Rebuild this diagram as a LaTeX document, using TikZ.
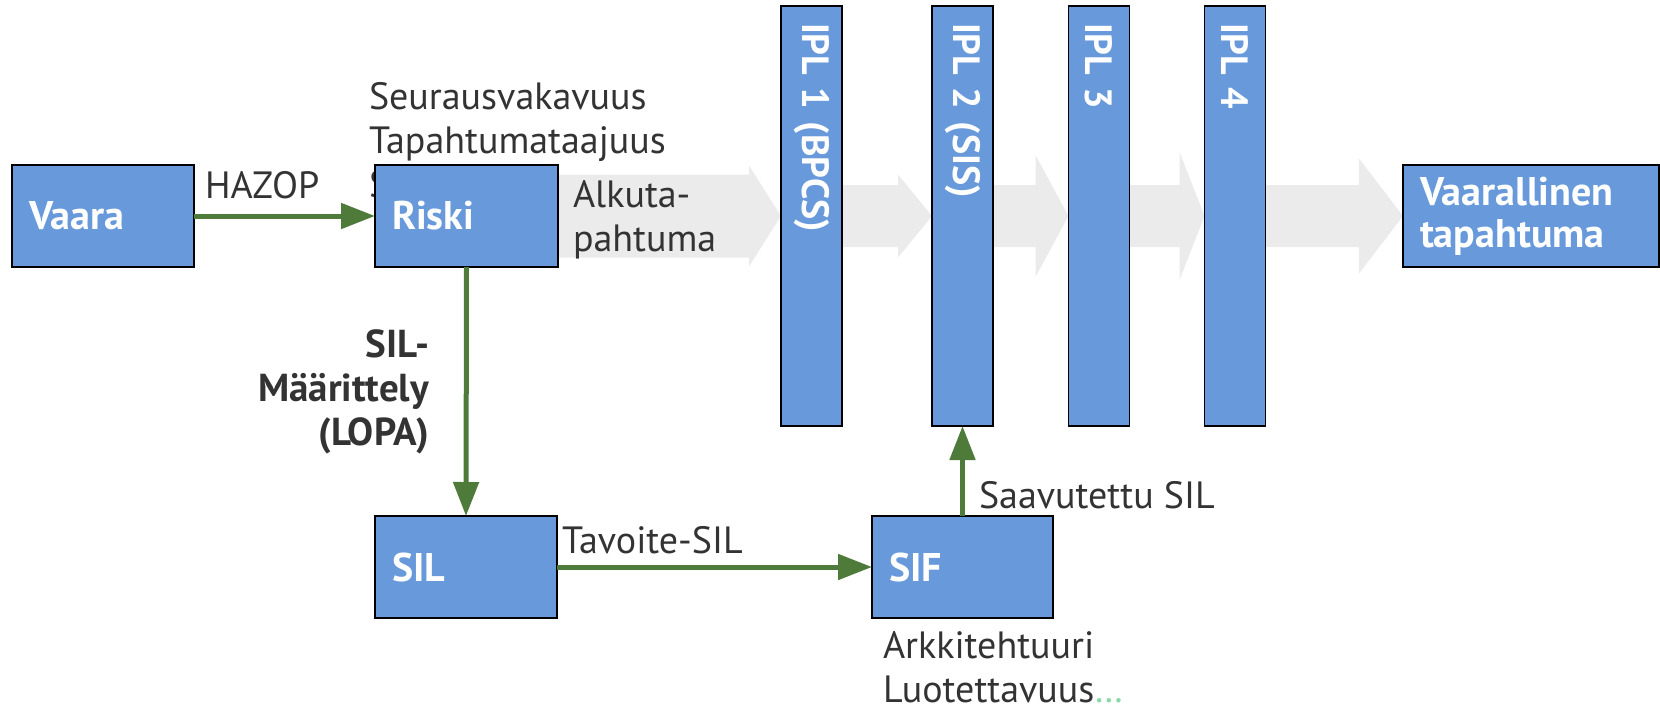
\documentclass[tikz,border=0pt]{standalone}
\usepackage{fontspec}
\setmainfont{PT Sans}
\usetikzlibrary{arrows.meta,calc}

\definecolor{boxblue}{RGB}{104,153,218}
\definecolor{flowgray}{RGB}{235,235,235}
\definecolor{linkgreen}{RGB}{78,122,58}
\definecolor{inkgray}{RGB}{51,51,51}
\definecolor{mint}{RGB}{140,215,170}

\pgfdeclarelayer{background}
\pgfsetlayers{background,main}

% wide grey flow arrow from one anchor to another
% #1 start, #2 tip, #3 body half height, #4 head half height, #5 head length
\newcommand\flowarrow[5]{%
  \fill[flowgray] ($(#1)+(0,-#3)$) -- ($(#2)+(-#5,-#3)$) -- ($(#2)+(-#5,-#4)$)
    -- (#2) -- ($(#2)+(-#5,#4)$) -- ($(#2)+(-#5,#3)$) -- ($(#1)+(0,#3)$) -- cycle;}

\begin{document}
\begin{tikzpicture}[x=1pt,y=-1pt,
  every node/.style={inner sep=0pt, outer sep=0pt},
  box/.style={draw=black, line width=1.4pt, fill=boxblue, text=white,
    font=\fontsize{40}{42}\selectfont\bfseries, align=left,
    minimum height=102pt, inner xsep=17pt},
  bar/.style={draw=black, line width=1.4pt, fill=boxblue, text=white,
    font=\fontsize{38}{40}\selectfont\bfseries, align=left, rotate=-90,
    minimum height=61pt, text width=386pt, inner xsep=17pt},
  lbl/.style={text=inkgray, font=\fontsize{38}{44}\selectfont},
  link/.style={draw=linkgreen, line width=5pt,
    -{Triangle[length=34pt,width=25pt]}}]
\useasboundingbox (0,0) rectangle (1660,710);

% three-line list, its last line partly hidden behind the Riski box
\node[lbl, anchor=base west, align=left] (riskfactors) at (369,197)
  {Seurausvakavuus\\Tapahtumataajuus\\S};

% protection layers (rotated: south = left side, north = right side, east = bottom)
\node[bar] (ipl1) at (811.5,216) {IPL 1 (BPCS)};
\node[bar] (ipl2) at (962.5,216) {IPL 2 (SIS)};
\node[bar] (ipl3) at (1099,216) {IPL 3};
\node[bar] (ipl4) at (1235,216) {IPL 4};

% main boxes
\node[box, text width=148pt] (vaara) at (103,216) {Vaara};
\node[box, text width=149pt] (riski) at (466.5,216) {Riski};
\node[box, text width=222pt] (event) at (1531,216) {Vaarallinen\\tapahtuma};
\node[box, text width=148pt] (sil) at (466,567) {SIL};
\node[box, text width=147pt] (sif) at (962.5,567) {SIF};

% event flow through the layers
\begin{pgfonlayer}{background}
\flowarrow{riski.east}{ipl1.south}{41.5}{50.5}{32}
\flowarrow{ipl1.north}{ipl2.south}{31}{41.5}{34}
\flowarrow{ipl2.north}{ipl3.south}{31}{61}{33}
\flowarrow{ipl3.north}{ipl4.south}{31}{64}{25}
\flowarrow{ipl4.north}{event.west}{31}{57.5}{44}
\end{pgfonlayer}

% labels
\node[lbl, anchor=base west] (hazop) at (205,198) {HAZOP};
\node[lbl, anchor=base west, align=left] (alku) at (573,251) {Alkuta-\\pahtuma};
\node[lbl, anchor=base east, align=right, font=\fontsize{39}{44}\selectfont\bfseries]
  (lopa) at (429,445) {SIL-\\Määrittely\\(LOPA)};
\node[lbl, anchor=base west] (tavoite) at (562,553) {Tavoite-SIL};
\node[lbl, anchor=base west] (saav) at (979,508) {Saavutettu SIL};
\node[lbl, anchor=base west, align=left] (arch) at (883,702)
  {Arkkitehtuuri\\Luotettavuus\textcolor{mint}{…}};

% green connectors
\draw[link] (vaara.east) -- (riski.west);
\draw[link] (riski.south) -- (sil.north);
\draw[link] (sil.east) -- (sif.west);
\draw[link] (sif.north) -- (ipl2.east);
\end{tikzpicture}
\end{document}
